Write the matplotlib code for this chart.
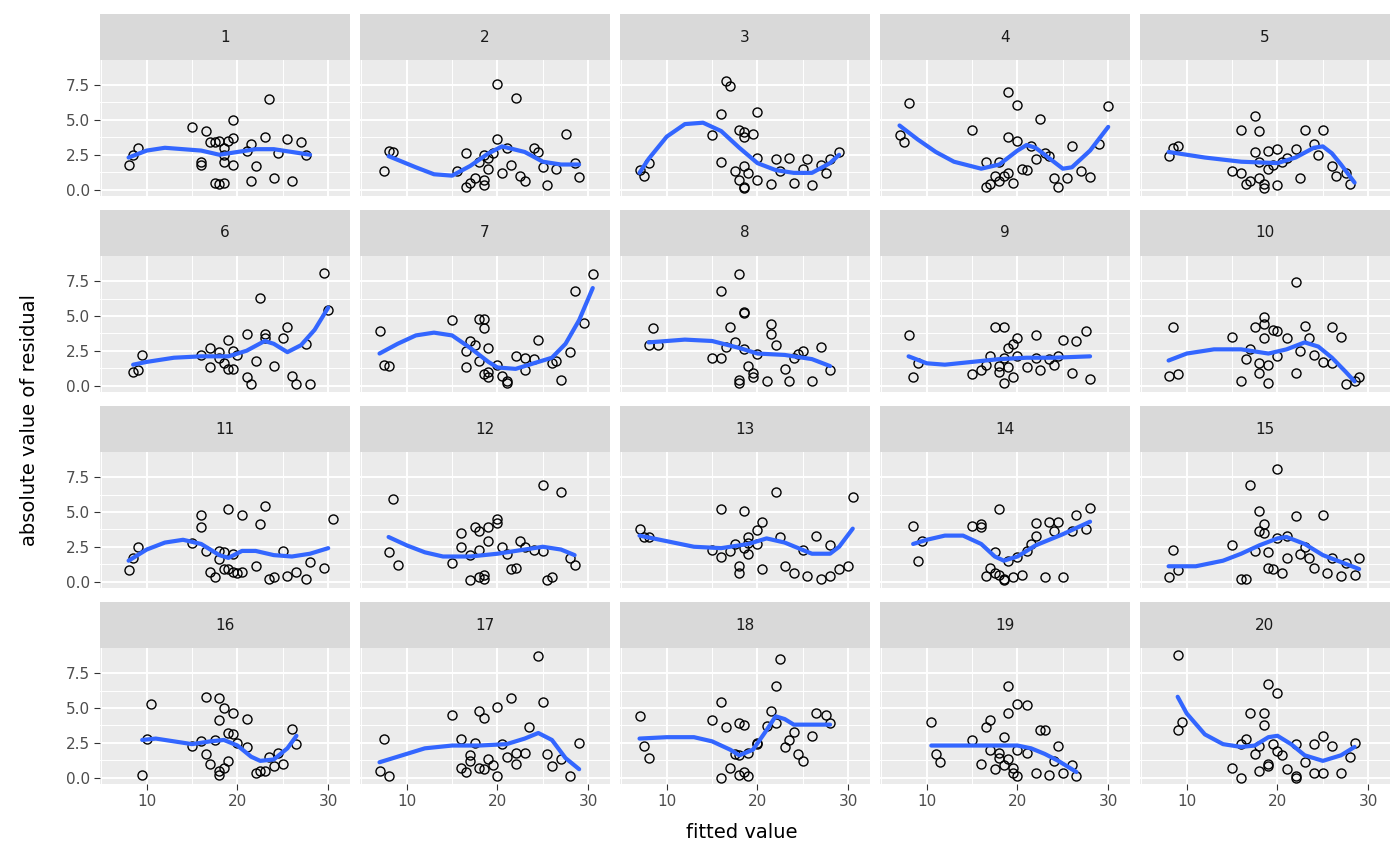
import numpy as np
import matplotlib.pyplot as plt
from matplotlib.patches import Rectangle

# points per panel: (fitted value, |residual|)
points = {
    1: [(8,1.8),(8.5,2.5),(9,3),(15,4.5),(16,2),(16,1.8),(16.5,4.2),(17,3.4),(17.5,3.4),(17.5,0.5),(18,0.4),(18.5,0.5),(18,3.5),(18.5,2.5),(18.5,2),(18.5,3),(19,3.5),(19.5,5),(19.5,3.7),(19.5,1.8),(21,2.8),(21.5,0.6),(21.5,3.3),(22,1.7),(23,3.8),(23.5,6.5),(24,0.8),(24.5,2.6),(25.5,3.6),(26,0.6),(27,3.4),(27.5,2.5)],
    2: [(7.5,1.3),(8,2.8),(8.5,2.7),(15.5,1.3),(16.5,0.2),(16.5,2.6),(17,0.5),(17.5,0.8),(18,2.0),(18.5,0.7),(18.5,2.5),(18.5,0.3),(19,1.5),(19,2.3),(19.5,2.6),(20,3.6),(20,7.6),(20.5,1.2),(21,3.0),(21.5,1.8),(22,6.6),(22.5,1.0),(23,0.6),(24,3.0),(24.5,2.7),(25,1.6),(25.5,0.3),(26.5,1.5),(27.5,4.0),(28.5,1.9),(29,0.9)],
    3: [(7,1.4),(7.5,1.0),(8,1.9),(15,3.9),(16,5.4),(16,2.0),(16.5,7.8),(17,7.4),(17.5,1.3),(18,4.3),(18,0.7),(18.5,3.8),(18.5,4.1),(18.5,1.7),(18.5,0.2),(18.5,0.1),(19,1.2),(19.5,4.0),(20,5.6),(20,0.7),(20,2.3),(21.5,0.4),(22,2.2),(22.5,1.3),(23.5,2.3),(24,0.5),(25,1.5),(25.5,2.2),(26,0.3),(27,1.8),(28,2.2),(29,2.7),(27.5,1.2)],
    4: [(7,3.9),(7.5,3.4),(8,6.2),(15,4.3),(16.5,2.0),(16.5,0.2),(17,0.4),(17.5,1.0),(18,0.6),(18,2.0),(18.5,1.0),(19,3.8),(19,7.0),(19,1.2),(19.5,0.5),(20,3.5),(20,6.1),(20.5,1.5),(21,1.4),(21.5,3.1),(22,2.2),(22.5,5.1),(23,2.6),(23.5,2.4),(24,0.8),(24.5,0.2),(25.5,0.8),(26,3.1),(27,1.3),(28,0.9),(29,3.3),(30,6.0)],
    5: [(8,2.4),(8.5,3.0),(9,3.1),(15,1.3),(16,4.3),(16,1.2),(16.5,0.4),(17,0.6),(17.5,2.7),(17.5,5.3),(18,4.2),(18,2.0),(18,0.8),(18.5,0.4),(18.5,0.1),(19,2.8),(19,1.5),(19.5,1.8),(20,0.3),(20,2.9),(20.5,2.0),(21,2.3),(22,2.9),(22.5,0.8),(23,4.3),(24,3.3),(24.5,2.5),(25,4.3),(26,1.7),(26.5,1.0),(27.5,1.2),(28,0.4)],
    6: [(8.5,1.0),(9,1.1),(9.5,2.2),(16,2.2),(17,1.3),(17,2.7),(18,2.0),(18,2.4),(18.5,1.6),(19,3.3),(19,1.2),(19.5,1.2),(19.5,2.5),(20,2.2),(21,3.7),(21,0.6),(21.5,0.1),(22,1.8),(22.5,6.3),(23,3.7),(23,3.4),(24,1.4),(25,3.4),(25.5,4.2),(26,0.7),(26.5,0.1),(27.5,3.0),(28,0.1),(29.5,8.1),(30,5.4)],
    7: [(7,3.9),(7.5,1.5),(8,1.4),(15,4.7),(16.5,1.3),(16.5,2.5),(17,3.2),(17.5,2.9),(18,4.8),(18,1.8),(18.5,4.8),(18.5,4.1),(18.5,0.8),(19,1.0),(19,2.7),(19,0.6),(20,1.5),(20.5,0.7),(21,0.3),(21,0.2),(22,2.1),(23,2.0),(23,1.1),(24,1.9),(24.5,3.3),(26,1.6),(26.5,1.8),(27,0.4),(28,2.4),(28.5,6.8),(29.5,4.5),(30.5,8.0)],
    8: [(8,2.9),(8.5,4.1),(9,2.9),(15,2.0),(16,6.8),(16,2.0),(16.5,2.8),(17,4.2),(17.5,3.1),(18,0.2),(18,0.4),(18,8.0),(18.5,5.3),(18.5,5.2),(18.5,2.6),(19,1.4),(19.5,0.9),(19.5,0.6),(20,2.3),(21,0.3),(21.5,4.4),(21.5,3.7),(22,2.9),(23,1.2),(23.5,0.3),(24,2.0),(24.5,2.3),(25,2.5),(26,0.3),(27,2.8),(28,1.1)],
    9: [(8,3.6),(8.5,0.6),(9,1.6),(15,0.8),(16,1.1),(16.5,1.5),(17,2.1),(17.5,4.2),(18,1.4),(18,1.0),(18.5,4.2),(18.5,2.0),(18.5,0.2),(19,2.7),(19,1.3),(19.5,0.6),(19.5,3.0),(20,3.4),(20,2.1),(21,1.3),(22,3.6),(22,2.0),(22.5,1.1),(23.5,1.9),(24,1.5),(24.5,2.1),(25,3.3),(26,0.9),(26.5,3.2),(27.5,3.9),(28,0.5)],
    10: [(8,0.7),(8.5,4.2),(9,0.8),(15,3.5),(16,0.3),(16.5,1.9),(17,2.6),(17.5,4.2),(18,1.6),(18,0.9),(18.5,4.9),(18.5,4.4),(18.5,3.4),(19,0.2),(19,1.5),(19.5,4.0),(20,3.9),(20,2.1),(21,3.4),(22,7.4),(22,0.9),(22.5,2.5),(23,4.3),(23.5,3.4),(24,2.2),(25,1.7),(26,4.2),(26,1.6),(27,3.5),(27.5,0.1),(28.5,0.3),(29,0.6)],
    11: [(8,0.8),(8.5,1.7),(9,2.5),(15,2.8),(16,3.9),(16,4.8),(16.5,2.2),(17,0.7),(17.5,0.3),(18,1.6),(18,2.2),(18.5,2.1),(18.5,0.9),(19,5.2),(19,0.9),(19.5,0.7),(19.5,2.0),(20,0.6),(20.5,4.8),(20.5,0.7),(22,1.1),(22.5,4.1),(23,5.4),(23.5,0.2),(24,0.3),(25,2.2),(25.5,0.4),(26.5,0.7),(27.5,0.2),(28,1.4),(29.5,1.0),(30.5,4.5)],
    12: [(8,2.1),(8.5,5.9),(9,1.2),(15,1.3),(16,3.5),(16,2.5),(17,1.9),(17,0.1),(17.5,3.9),(18,3.6),(18,0.3),(18,2.3),(18.5,0.5),(18.5,0.2),(19,3.9),(19,2.9),(20,4.2),(20,4.5),(20.5,2.5),(21,2.0),(21.5,0.9),(22,1.0),(22.5,2.9),(23,2.5),(24,2.3),(25,2.2),(25,6.9),(25.5,0.1),(26,0.3),(27,6.4),(28,1.7),(28.5,1.2)],
    13: [(7,3.8),(7.5,3.2),(8,3.2),(15,2.3),(16,5.2),(16,1.8),(17,2.2),(17.5,2.7),(18,0.6),(18,1.1),(18.5,5.1),(18.5,2.4),(19,3.2),(19,2.0),(19,2.8),(20,2.7),(20,3.7),(20.5,4.3),(20.5,0.9),(22,6.4),(22.5,3.2),(23,1.1),(24,0.6),(25,2.3),(25.5,0.4),(26.5,3.3),(27,0.2),(28,0.4),(28,2.6),(29,0.9),(30,1.1),(30.5,6.1)],
    14: [(8.5,4.0),(9,1.5),(9.5,2.9),(15,4.0),(16,4.1),(16,3.9),(16.5,0.4),(17,1.0),(17.5,0.6),(17.5,2.1),(18,5.2),(18,0.5),(18.5,0.1),(18.5,0.2),(19,1.5),(19.5,0.3),(20,1.8),(20.5,0.5),(21,2.2),(21.5,2.7),(22,4.2),(22,3.3),(23,0.3),(23.5,4.3),(24,3.6),(24.5,4.3),(25,0.3),(26,3.6),(26.5,4.8),(27.5,3.8),(28,5.3)],
    15: [(8,0.3),(8.5,2.3),(9,0.8),(15,2.6),(16,0.2),(16.5,0.2),(17,6.9),(17.5,2.2),(18,3.6),(18,5.1),(18.5,4.1),(18.5,3.5),(19,1.0),(19,2.1),(19.5,0.9),(20,8.1),(20,3.1),(20.5,0.6),(21,1.7),(21,3.3),(22,4.7),(22.5,2.0),(23,2.5),(23.5,1.7),(24,1.0),(25,4.8),(25.5,0.6),(26,1.7),(27,0.4),(27.5,1.3),(28.5,0.5),(29,1.7)],
    16: [(9.5,0.2),(10,2.8),(10.5,5.3),(15,2.3),(16,2.6),(16.5,5.8),(16.5,1.7),(17,1.0),(17.5,2.7),(18,5.7),(18,4.1),(18,0.5),(18,0.2),(18.5,5.0),(18.5,0.7),(19,3.2),(19,1.2),(19.5,4.6),(19.5,3.1),(20,2.5),(21,4.2),(21,2.2),(22,0.3),(22.5,0.5),(23,0.5),(23.5,1.5),(24,0.8),(24.5,1.8),(25,1.0),(26,3.5),(26.5,2.4)],
    17: [(7,0.5),(7.5,2.8),(8,0.1),(15,4.5),(16,0.7),(16,2.8),(16.5,0.4),(17,1.2),(17,1.6),(17.5,2.5),(18,0.7),(18,4.8),(18.5,0.6),(18.5,4.3),(19,1.3),(19.5,0.9),(20,5.1),(20,0.1),(20.5,2.4),(21,1.5),(21.5,5.7),(22,1.0),(22,1.8),(23,1.8),(23.5,3.6),(24.5,8.7),(25,5.4),(25.5,1.7),(26,0.8),(27,1.3),(28,0.1),(29,2.5)],
    18: [(7,4.4),(7.5,2.3),(8,1.4),(15,4.1),(16,5.4),(16,0.0),(16.5,3.6),(17,0.7),(17.5,1.7),(18,3.9),(18,1.6),(18,0.2),(18.5,3.8),(18.5,0.4),(19,0.1),(19,1.8),(20,2.4),(20,2.5),(21,3.7),(21.5,4.8),(22,6.6),(22,3.9),(22.5,8.5),(23,2.2),(23.5,2.7),(24,3.3),(24.5,1.7),(25,1.2),(26,3.0),(26.5,4.6),(27.5,4.5),(28,3.9)],
    19: [(10.5,4.0),(11,1.7),(11.5,1.1),(15,2.7),(16,1.0),(16.5,3.6),(17,4.1),(17,2.0),(17.5,0.6),(18,1.8),(18,1.4),(18.5,0.9),(18.5,2.9),(19,6.6),(19,4.6),(19,1.3),(19.5,0.7),(19.5,0.3),(20,5.3),(20,2.0),(20,0.1),(21,5.2),(21,1.8),(22,0.3),(22.5,3.4),(23,3.4),(23.5,0.2),(24,1.2),(24.5,2.3),(25,0.3),(26,0.9),(26.5,0.1)],
    20: [(9,3.4),(9,8.8),(9.5,4.0),(15,0.7),(16,0.0),(16,2.4),(16.5,2.8),(17,4.6),(17.5,1.7),(18,2.3),(18,0.5),(18.5,3.8),(18.5,4.6),(19,6.7),(19,0.8),(19,1.0),(19.5,2.4),(20,1.9),(20,6.1),(20.5,1.6),(21,0.6),(22,2.4),(22,0.1),(22,0.0),(23,1.1),(24,2.4),(24,0.3),(25,0.3),(25,3.0),(26,2.3),(27,0.3),(28,1.5),(28.5,2.5)],
}

# smooth curve per panel at a few x positions
smooth = {
    1: [(8,2.3),(10,2.8),(12,3.0),(14,2.9),(16,2.8),(18,2.5),(20,2.7),(22,2.9),(24,2.9),(26,2.7),(28,2.5)],
    2: [(8,2.4),(11,1.6),(13,1.1),(15,1.0),(17,1.7),(19,2.6),(20.5,3.1),(23,2.7),(25,2.0),(27,1.8),(29,1.8)],
    3: [(7,1.2),(8,2.2),(10,3.8),(12,4.7),(14,4.8),(16,4.2),(18,3.0),(20,1.9),(22,1.4),(24,1.2),(26,1.2),(28,1.9),(29,2.5)],
    4: [(7,4.6),(9,3.6),(11,2.7),(13,2.0),(16,1.5),(18,1.8),(20,2.8),(21,3.2),(22,3.0),(24,2.0),(25,1.5),(26,1.6),(28,2.8),(30,4.5)],
    5: [(8,2.7),(12,2.3),(16,2.0),(20,1.9),(22,2.3),(24,3.0),(25,3.1),(26,2.6),(27,1.8),(28.5,0.5)],
    6: [(8.5,1.5),(10,1.7),(13,2.0),(16,2.1),(19,2.1),(21,2.5),(23,3.2),(24,3.0),(25.5,2.4),(27,2.9),(28.5,4.0),(30,5.6)],
    7: [(7,2.3),(9,3.0),(11,3.6),(13,3.8),(15,3.6),(17,2.7),(19,1.7),(20,1.3),(22,1.2),(24,1.6),(26,2.0),(27.5,3.0),(29,4.7),(30.5,7.0)],
    8: [(8,3.1),(10,3.2),(12,3.3),(15,3.2),(18,2.7),(20,2.3),(23,2.2),(26,1.9),(28,1.4)],
    9: [(8,2.1),(10,1.6),(12,1.5),(15,1.7),(18,1.9),(21,2.0),(24,2.0),(28,2.1)],
    10: [(8,1.8),(10,2.3),(13,2.6),(16,2.6),(19,2.3),(21,2.6),(23,3.1),(24.5,2.8),(26,2.0),(27.5,1.0),(28.5,0.3)],
    11: [(8,1.5),(10,2.3),(12,2.8),(14,3.0),(16,2.7),(18,1.9),(19,1.7),(20.5,2.2),(22,2.2),(24,1.9),(26,1.8),(28,2.0),(30,2.4)],
    12: [(8,3.2),(10,2.6),(12,2.1),(14,1.8),(17,1.8),(20,2.0),(23,2.3),(25,2.5),(27,2.3),(28.5,1.9)],
    13: [(7,3.3),(10,2.9),(13,2.5),(16,2.4),(19,2.7),(21,3.1),(23,2.8),(26,2.0),(28,2.0),(29,2.5),(30.5,3.8)],
    14: [(8.5,2.7),(10,3.0),(12,3.3),(14,3.3),(16,2.7),(17.5,1.8),(18.5,1.5),(20,1.8),(22,2.6),(25,3.4),(28,4.3)],
    15: [(8,1.1),(11,1.1),(14,1.5),(16,2.0),(18,2.6),(20,3.1),(21,3.2),(23,2.7),(25,1.9),(27,1.4),(29,0.9)],
    16: [(9.5,2.7),(11,2.8),(13,2.6),(15,2.4),(17,2.6),(18.5,2.7),(20,2.3),(21.5,1.5),(22.5,1.2),(24,1.3),(25.5,2.1),(26.5,3.0)],
    17: [(7,1.1),(9,1.5),(12,2.1),(15,2.3),(18,2.3),(21,2.4),(23,2.8),(24.5,3.2),(26,2.7),(27.5,1.4),(29,0.6)],
    18: [(7,2.8),(10,2.9),(13,2.9),(15,2.6),(17,2.0),(18,1.6),(19.5,2.0),(21,3.4),(22,4.4),(23,4.2),(24,3.8),(26,3.8),(28,3.8)],
    19: [(10.5,2.3),(14,2.3),(18,2.3),(20,2.3),(21.5,2.1),(23,1.7),(24.5,1.2),(26.5,0.4)],
    20: [(9,5.8),(10,4.6),(12,3.1),(14,2.4),(16,2.2),(17.5,2.3),(19,2.9),(20,3.0),(21.5,2.4),(23,1.6),(25,1.2),(27,1.6),(28.5,2.2)],
}

W, H = 1400, 865
fig = plt.figure(figsize=(14, 8.65), dpi=100)
fig.patch.set_facecolor('white')

for i in range(20):
    r, c = divmod(i, 5)
    left = 100 + 260 * c
    top = 60 + 196 * r
    ax = fig.add_axes([left / W, 1 - (top + 136) / H, 250 / W, 136 / H])
    # strip
    fig.patches.append(Rectangle((left / W, 1 - top / H), 250 / W, 46 / H,
                                 transform=fig.transFigure, facecolor='#D9D9D9',
                                 edgecolor='none'))
    fig.text((left + 125) / W, 1 - (top - 23) / H, str(i + 1), ha='center',
             va='center', fontsize=11, color='#1A1A1A')

    ax.set_facecolor('#EBEBEB')
    ax.set_xlim(4.85, 32.4)
    ax.set_ylim(-0.46, 9.3)
    ax.set_xticks([10, 20, 30])
    ax.set_xticks([5, 15, 25], minor=True)
    ax.set_yticks([0, 2.5, 5, 7.5])
    ax.set_yticks([1.25, 3.75, 6.25], minor=True)
    ax.grid(True, which='major', color='white', linewidth=1.4)
    ax.grid(True, which='minor', color='white', linewidth=0.7)
    ax.set_axisbelow(True)
    for s in ax.spines.values():
        s.set_visible(False)
    ax.tick_params(which='both', length=0)
    ax.tick_params(which='major', length=4, color='#333333', labelsize=11,
                   labelcolor='#4D4D4D', pad=3)
    if c != 0:
        ax.tick_params(axis='y', which='major', length=0, labelleft=False)
    else:
        ax.set_yticklabels(['0.0', '2.5', '5.0', '7.5'])
    if r != 3:
        ax.tick_params(axis='x', which='major', length=0, labelbottom=False)

    px, py = zip(*points[i + 1])
    ax.plot(px, py, 'o', mfc='none', mec='black', ms=6.5, mew=1.0)
    sx, sy = zip(*smooth[i + 1])
    ax.plot(sx, sy, color='#3366FF', linewidth=3, solid_capstyle='round',
            solid_joinstyle='round')

fig.text(742 / W, 1 - 833 / H, 'fitted value', ha='center', va='center',
         fontsize=14)
fig.text(30 / W, 1 - 420 / H, 'absolute value of residual', ha='center',
         va='center', rotation=90, fontsize=14)

fig.savefig('out.png', dpi=100)
